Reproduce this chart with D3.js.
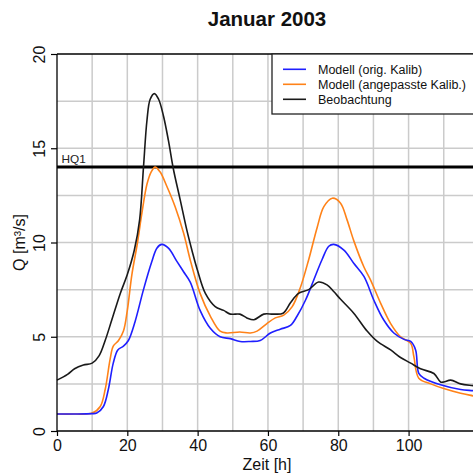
<!DOCTYPE html>
<html>
<head>
<meta charset="utf-8">
<script src="https://cdn.jsdelivr.net/npm/d3@7"></script>
<style>
html,body{margin:0;padding:0;background:#fff;}
svg{display:block;font-family:"Liberation Sans",Arial,sans-serif;}
</style>
</head>
<body>
<svg id="chart" width="473" height="475"></svg>
<script>
const title = "Januar 2003";
const xLabel = "Zeit [h]";
const yLabel = "Q [m³/s]";
const xTicks = [0, 20, 40, 60, 80, 100];
const yTicks = [0, 5, 10, 15, 20];
const xGrid = [10, 20, 30, 40, 50, 60, 70, 80, 90, 100, 110];
const yGrid = [2.5, 5, 7.5, 10, 12.5, 15, 17.5];
const hq1Value = 14;
const hq1Label = "HQ1";
const seriesNames = ["Modell (orig. Kalib)", "Modell (angepasste Kalib.)", "Beobachtung"];

const origTime = [0,5,10,11.3,13.2,14.6,16,17.3,18.9,20.3,22.2,24.6,27,28.4,29.8,31.7,34.1,36,37.9,40.7,43.6,46.4,49.3,52.1,55,57.8,60.7,63.5,66.4,68.3,70.7,73,75.4,77.3,78.7,81.6,84.4,87.3,90.1,92.9,95.8,98.7,100.6,102,102.9,104.4,109.1,114.8,118.5,120];
const origQ    = [0.9,0.9,0.92,0.95,1.3,2.2,3.6,4.3,4.5,4.8,5.8,7.5,9.0,9.7,9.9,9.7,9.0,8.45,7.9,6.4,5.45,5.0,4.9,4.75,4.75,4.8,5.2,5.4,5.6,6.1,6.95,8.0,9.1,9.8,9.9,9.6,8.9,8.2,6.95,5.9,5.2,4.86,4.75,4.3,3.06,2.8,2.45,2.2,2.14,2.1];

const adjTime = [0,5,10,12.3,13.7,15.1,16,17.5,18.9,20,21.3,22.9,24.1,25.6,26.8,27.9,29.3,31.2,33.6,36,38,40.7,43.6,46.4,48.3,52,55,56.9,59.7,62.1,64.5,66.9,69.2,71.6,74,75.9,78.3,80.6,82.5,84.4,87.3,89.2,92,94.9,97.7,100.6,101.5,102.9,106.3,110,114.8,118.5,120];
const adjQ    = [0.9,0.9,0.95,1.3,2.2,3.8,4.5,4.8,5.3,6.4,8.3,10,11.5,13.1,13.75,14.0,13.75,13.0,11.9,10.5,9.0,7.3,6.1,5.3,5.2,5.25,5.2,5.3,5.7,6.0,6.15,6.6,7.6,9.1,10.8,11.9,12.35,12.1,11.2,10.1,8.7,8.0,6.8,5.7,5.0,4.65,3.95,2.8,2.5,2.25,2.0,1.86,1.8];

const obsTime = [0,3,5,7.5,10,12,13.7,15.6,18,20,22,23.5,24.6,25.6,26.5,27.7,28.9,30.3,31.7,33.1,35,37,38.5,40,42.2,45,47.4,49.3,52,54,56,58.8,61.6,64.3,66.4,68.7,71.6,74.4,76.8,78.7,80.6,84.4,88.2,91.1,94.9,97.7,100.6,103.4,107.2,109.1,110,112,114.8,118.5,120];
const obsQ    = [2.7,3.0,3.3,3.5,3.6,4.0,4.8,5.9,7.3,8.3,9.6,11.2,14.0,16.5,17.6,17.9,17.6,16.7,15.4,13.9,12.3,10.6,9.5,8.5,7.3,6.6,6.4,6.2,6.2,6.0,5.9,6.2,6.2,6.25,6.8,7.3,7.5,7.9,7.75,7.4,7.0,6.25,5.3,4.75,4.3,3.9,3.6,3.3,3.05,2.6,2.6,2.7,2.5,2.4,2.35];

const colors = ["#1f1fff", "#ff8218", "#1a1a1a"];

const svg = d3.select("#chart");
const pLeft = 57, pTop = 54, pBottom = 431;
const x = d3.scaleLinear().domain([0, 120]).range([pLeft, pLeft + 421.9]);
const y = d3.scaleLinear().domain([0, 20]).range([pBottom, pTop]);
const pRight = x(120);

// title
svg.append("text").attr("x", 267).attr("y", 26).attr("text-anchor", "middle")
  .attr("font-size", 20.5).attr("font-weight", "bold").attr("fill", "#111").text(title);

// grid
const g = svg.append("g");
g.selectAll(".vg").data(xGrid).join("line")
  .attr("x1", d => x(d)).attr("x2", d => x(d)).attr("y1", pTop).attr("y2", pBottom)
  .attr("stroke", "#cbcbcb").attr("stroke-width", 1.5);
g.selectAll(".hg").data(yGrid).join("line")
  .attr("x1", pLeft).attr("x2", pRight).attr("y1", d => y(d)).attr("y2", d => y(d))
  .attr("stroke", "#cbcbcb").attr("stroke-width", 1.5);

// HQ1
svg.append("line").attr("x1", pLeft).attr("x2", pRight).attr("y1", y(hq1Value)).attr("y2", y(hq1Value))
  .attr("stroke", "#000").attr("stroke-width", 3);
svg.append("text").attr("x", 61.5).attr("y", y(hq1Value) - 4.5).attr("font-size", 11.8)
  .attr("fill", "#222").text(hq1Label);

// series
const makeLine = (curve) => d3.line().x(d => x(d[0])).y(d => y(d[1])).curve(curve);
const series = [
  {t: origTime, q: origQ, c: colors[0], curve: d3.curveCatmullRom.alpha(0.5)},
  {t: adjTime, q: adjQ, c: colors[1], curve: d3.curveCatmullRom.alpha(0.5)},
  {t: obsTime, q: obsQ, c: colors[2], curve: d3.curveCatmullRom.alpha(0.5)}
];
[1, 0, 2].forEach(i => {
  const s = series[i];
  const pts = s.t.map((t, k) => [t, s.q[k]]);
  svg.append("path").attr("d", makeLine(s.curve)(pts)).attr("fill", "none")
    .attr("stroke", s.c).attr("stroke-width", 1.6).attr("stroke-linejoin", "round");
});

// axes
const xAxis = d3.axisBottom(x).tickValues(xTicks).tickSize(5).tickFormat(d3.format("d"));
const xa = svg.append("g").attr("transform", `translate(0,${pBottom})`).call(xAxis);
xa.select(".domain").remove();
xa.selectAll("line").attr("stroke", "#000").attr("stroke-width", 1.2);
xa.selectAll("text").attr("font-size", 16).attr("font-family", "Liberation Sans, Arial, sans-serif")
  .attr("fill", "#111").attr("y", 0).attr("dy", 0).attr("transform", "translate(0,19.5)");

const yAxis = d3.axisLeft(y).tickValues(yTicks).tickSize(6).tickFormat(d3.format("d"));
const ya = svg.append("g").attr("transform", `translate(${pLeft},0)`).call(yAxis);
ya.select(".domain").remove();
ya.selectAll("line").attr("stroke", "#000").attr("stroke-width", 1.2);
ya.selectAll("text").attr("font-size", 16).attr("font-family", "Liberation Sans, Arial, sans-serif")
  .attr("fill", "#111").attr("x", 0).attr("dy", 0).attr("text-anchor", "middle")
  .attr("transform", "translate(-12,0) rotate(-90)");

// frame lines
svg.append("line").attr("x1", pLeft).attr("x2", pLeft).attr("y1", pTop).attr("y2", pBottom).attr("stroke", "#000").attr("stroke-width", 1.3);
svg.append("line").attr("x1", pLeft).attr("x2", pRight).attr("y1", pBottom).attr("y2", pBottom).attr("stroke", "#000").attr("stroke-width", 1.3);
svg.append("line").attr("x1", pLeft).attr("x2", pRight).attr("y1", pTop).attr("y2", pTop).attr("stroke", "#000").attr("stroke-width", 1.3);

// axis labels
svg.append("text").attr("x", 267).attr("y", 469.5).attr("text-anchor", "middle")
  .attr("font-size", 16).attr("fill", "#111").text(xLabel);
svg.append("text").attr("transform", `translate(25,${(pTop + pBottom) / 2}) rotate(-90)`)
  .attr("text-anchor", "middle").attr("font-size", 16).attr("fill", "#111").text(yLabel);

// legend
const lg = svg.append("g");
lg.append("rect").attr("x", 272).attr("y", pTop).attr("width", 230).attr("height", 60)
  .attr("fill", "#fff").attr("stroke", "#222").attr("stroke-width", 1.3);
seriesNames.forEach((name, i) => {
  const cy = 69.3 + i * 15;
  lg.append("line").attr("x1", 283).attr("x2", 306).attr("y1", cy).attr("y2", cy)
    .attr("stroke", colors[i]).attr("stroke-width", 1.6);
  lg.append("text").attr("x", 318).attr("y", cy + 4.5).attr("font-size", 12.5)
    .attr("fill", "#111").text(name);
});
</script>
</body>
</html>
